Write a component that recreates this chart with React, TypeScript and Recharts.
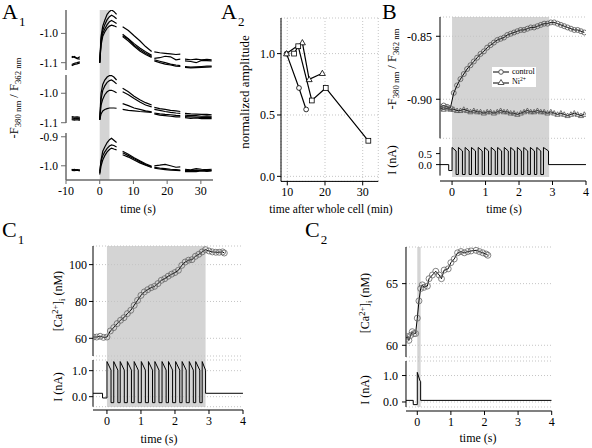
import React from 'react';
import { LineChart, Line, XAxis, YAxis, ReferenceArea, CartesianGrid } from 'recharts';

const FONT = '"Liberation Serif", "DejaVu Serif", serif';
const _ = null;

// ---------------- A1 : ratio traces ----------------
const a1Time = [-8.3, -7.5, -6.7, -5.9, -3, 0, 0.4, 0.9, 1.5, 2.2, 2.9, 3.5, 4.2, 5.0, 5.9, 6.8, 8.5, 10.2, 11.9, 13.6, 15.4, 15.8, 16.2, 17.8, 19.4, 21.0, 22.6, 23.9, 24.6, 25.3, 27.0, 28.6, 30.2, 31.8, 33.2];
const a1Top1 = [-1.078, -1.082, -1.085, -1.080, _, -1.100, -1.010, -0.975, -0.955, -0.935, -0.925, -0.920, -0.925, -0.935, _, -0.977, -0.990, -1.008, -1.025, -1.045, -1.062, _, -1.063, -1.066, -1.068, -1.070, -1.072, -1.071, _, -1.088, -1.090, -1.088, -1.090, -1.089, -1.090];
const a1Top2 = [-1.083, -1.079, -1.086, -1.088, _, -1.100, -1.020, -0.990, -0.970, -0.953, -0.943, -0.938, -0.942, -0.950, _, -1.003, -1.018, -1.035, -1.050, -1.063, -1.075, _, -1.085, -1.083, -1.078, -1.080, -1.090, -1.088, _, -1.094, -1.096, -1.100, -1.092, -1.093, -1.094];
const a1Top3 = [-1.106, -1.102, -1.100, -1.097, _, -1.100, -1.030, -1.000, -0.985, -0.970, -0.960, -0.956, -0.960, -0.966, _, -1.008, -1.020, -1.040, -1.055, -1.068, -1.079, _, -1.090, -1.095, -1.100, -1.105, -1.108, -1.110, _, -1.113, -1.115, -1.114, -1.113, -1.112, -1.112];
const a1Top4 = [-1.110, -1.106, -1.104, -1.101, _, -1.100, -1.040, -1.010, -0.995, -0.982, -0.975, -0.972, -0.974, -0.978, _, -1.011, -1.026, -1.044, -1.060, -1.072, -1.082, _, -1.094, -1.100, -1.105, -1.108, -1.112, -1.113, _, -1.116, -1.118, -1.117, -1.116, -1.115, -1.114];
const a1Mid1 = [-1.079, -1.081, -1.080, -1.082, _, -1.090, -1.000, -0.970, -0.955, -0.945, -0.940, -0.940, -0.945, -0.955, _, -0.983, -0.995, -1.010, -1.022, -1.032, -1.040, _, -1.048, -1.052, -1.055, -1.058, -1.060, -1.062, _, -1.068, -1.070, -1.071, -1.072, -1.072, -1.073];
const a1Mid2 = [-1.083, -1.085, -1.084, -1.086, _, -1.090, -1.020, -0.990, -0.975, -0.963, -0.957, -0.955, -0.960, -0.968, _, -0.995, -1.005, -1.018, -1.030, -1.040, -1.046, _, -1.055, -1.058, -1.062, -1.065, -1.067, -1.068, _, -1.074, -1.076, -1.076, -1.078, -1.077, -1.078];
const a1Mid3 = [-1.087, -1.088, -1.086, -1.089, _, -1.090, -1.040, -1.020, -1.005, -0.995, -0.990, -0.990, -0.993, -0.998, _, -1.035, -1.042, -1.050, -1.055, -1.060, -1.063, _, -1.067, -1.070, -1.072, -1.073, -1.075, -1.076, _, -1.079, -1.080, -1.081, -1.082, -1.081, -1.082];
const a1Mid4 = [-1.090, -1.091, -1.090, -1.092, _, -1.090, -1.070, -1.060, -1.055, -1.052, -1.050, -1.050, -1.050, -1.051, _, -1.055, -1.058, -1.060, -1.062, -1.063, -1.065, _, -1.070, -1.074, -1.076, -1.078, -1.080, -1.080, _, -1.083, -1.085, -1.084, -1.086, -1.085, -1.086];
const a1Low1 = [-1.012, -1.015, -1.013, -1.016, _, -1.025, -0.980, -0.950, -0.935, -0.920, -0.910, -0.905, -0.912, -0.920, _, -0.950, -0.960, -0.972, -0.983, -0.993, -1.002, _, -1.000, -0.998, -0.995, -1.000, -1.005, -1.004, _, -1.012, -1.014, -1.010, -1.012, -1.013, -1.012];
const a1Low2 = [-1.014, -1.012, -1.016, -1.014, _, -1.020, -0.985, -0.965, -0.952, -0.940, -0.932, -0.928, -0.930, -0.935, _, -0.955, -0.965, -0.976, -0.986, -0.996, -1.004, _, -1.005, -1.008, -1.010, -1.012, -1.013, -1.015, _, -1.016, -1.017, -1.015, -1.016, -1.017, -1.016];
const a1Low3 = [-1.016, -1.017, -1.015, -1.018, _, -1.030, -1.000, -0.980, -0.965, -0.952, -0.944, -0.939, -0.942, -0.945, _, -0.962, -0.970, -0.980, -0.990, -0.998, -1.006, _, -1.008, -1.011, -1.013, -1.015, -1.016, -1.017, _, -1.020, -1.019, -1.020, -1.018, -1.019, -1.018];

// ---------------- A2 : normalized amplitude ----------------
const a2CircleX = [9.8, 13.1, 15.0];
const a2CircleY = [1.0, 0.72, 0.545];
const a2TriX = [9.8, 14.0, 15.8, 19.3];
const a2TriY = [1.0, 1.09, 0.79, 0.84];
const a2SqX = [11.8, 12.9, 16.5, 20.2, 31.5];
const a2SqY = [1.0, 1.06, 0.618, 0.72, 0.29];

// ---------------- B : control vs Ni2+ ----------------
const bTime = [-0.35, -0.25, -0.15, -0.05, 0.05, 0.15, 0.25, 0.35, 0.45, 0.55, 0.65, 0.75, 0.85, 0.95, 1.05, 1.15, 1.25, 1.35, 1.45, 1.55, 1.65, 1.75, 1.85, 1.95, 2.05, 2.15, 2.25, 2.35, 2.45, 2.55, 2.65, 2.75, 2.85, 2.95, 3.05, 3.15, 3.25, 3.35, 3.45, 3.55, 3.65, 3.75, 3.85, 3.95];
const bControl = [-0.906, -0.905, -0.906, -0.907, -0.895, -0.889, -0.884, -0.880, -0.876, -0.873, -0.870, -0.867, -0.864, -0.862, -0.859, -0.857, -0.855, -0.853, -0.852, -0.851, -0.849, -0.848, -0.847, -0.846, -0.845, -0.845, -0.844, -0.843, -0.843, -0.842, -0.841, -0.840, -0.840, -0.839, -0.839, -0.840, -0.841, -0.842, -0.843, -0.844, -0.845, -0.845, -0.846, -0.847];
const bNi = [-0.907, -0.908, -0.907, -0.908, -0.908, -0.909, -0.909, -0.908, -0.909, -0.910, -0.909, -0.910, -0.910, -0.911, -0.910, -0.910, -0.911, -0.910, -0.909, -0.910, -0.910, -0.911, -0.911, -0.912, -0.911, -0.910, -0.909, -0.910, -0.910, -0.909, -0.910, -0.910, -0.911, -0.910, -0.911, -0.912, -0.911, -0.912, -0.913, -0.912, -0.911, -0.912, -0.913, -0.912];
const bPulseOn = [0, 0.19, 0.39, 0.58, 0.78, 0.97, 1.17, 1.36, 1.56, 1.75, 1.95, 2.14, 2.34, 2.53, 2.73];
const bLevels = { start: -0.36, stop: 4, base: 0, dipStart: -0.1, dip: -0.27, peak: 0.78, sag: 0.62, trough: -0.45, width: 0.12, end: 2.88 };

// ---------------- C1 : [Ca] during train ----------------
const c1Time = [-0.4, -0.3, -0.2, -0.1, 0, 0.1, 0.2, 0.3, 0.4, 0.5, 0.6, 0.7, 0.8, 0.9, 1.0, 1.1, 1.2, 1.3, 1.4, 1.5, 1.6, 1.7, 1.8, 1.9, 2.0, 2.1, 2.2, 2.3, 2.4, 2.5, 2.6, 2.7, 2.8, 2.9, 3.0, 3.1, 3.2, 3.3, 3.4, 3.45];
const c1Ca = [60.7, 60.7, 61.1, 60.5, 60.7, 64.0, 65.8, 68.0, 69.8, 71.2, 73.4, 75.2, 77.9, 80.6, 83.3, 85.2, 86.4, 87.5, 88.2, 89.7, 91.5, 92.4, 93.7, 94.8, 95.7, 96.9, 99.6, 101.4, 102.4, 102.7, 104.5, 105.6, 106.9, 108.1, 107.4, 106.9, 106.7, 106.7, 106.9, 106.3];
const c1PulseOn = [0, 0.2, 0.39, 0.6, 0.8, 1.01, 1.22, 1.41, 1.62, 1.81, 2.02, 2.21, 2.42, 2.61, 2.8];
const c1Levels = { start: -0.41, stop: 4, base: 0.13, dipStart: -0.13, dip: -0.05, peak: 1.35, sag: 1.02, trough: -0.23, width: 0.12, end: 2.9 };

// ---------------- C2 : [Ca] after single pulse ----------------
const c2Time = [-0.33, -0.3, -0.25, -0.2, -0.15, -0.1, -0.05, 0, 0.05, 0.1, 0.15, 0.2, 0.3, 0.35, 0.45, 0.55, 0.65, 0.72, 0.8, 0.92, 1.0, 1.1, 1.2, 1.3, 1.4, 1.5, 1.6, 1.75, 1.85, 1.95, 2.05, 2.1];
const c2Ca = [60.54, 60.7, 60.4, 60.8, 61.1, 60.95, 60.95, 62.2, 63.6, 64.6, 64.9, 64.7, 64.8, 65.4, 65.7, 66.0, 65.7, 65.4, 66.1, 66.2, 66.7, 67.0, 67.5, 67.6, 67.5, 67.6, 67.65, 67.7, 67.6, 67.5, 67.4, 67.3];
const c2CurT = [-0.336, -0.12, -0.12, 0, 0, 0.08, 0.1, 0.1, 4];
const c2CurI = [0.06, 0.06, -0.1, -0.1, 1.12, 0.8, 0.78, 0.06, 0.06];

// ---------------- tables built from the arrays ----------------
const a1Rows = a1Time.map((t, i) => ({
  t,
  top1: a1Top1[i], top2: a1Top2[i], top3: a1Top3[i], top4: a1Top4[i],
  mid1: a1Mid1[i], mid2: a1Mid2[i], mid3: a1Mid3[i], mid4: a1Mid4[i],
  low1: a1Low1[i], low2: a1Low2[i], low3: a1Low3[i],
}));
const toXY = (xs: number[], ys: number[]) => xs.map((x, i) => ({ x, y: ys[i] }));
const a2CircleRows = toXY(a2CircleX, a2CircleY);
const a2TriRows = toXY(a2TriX, a2TriY);
const a2SqRows = toXY(a2SqX, a2SqY);
const bRows = bTime.map((t, i) => ({ t, control: bControl[i], ni: bNi[i] }));
const c1Rows = c1Time.map((t, i) => ({ t, ca: c1Ca[i] }));
const c2Rows = c2Time.map((t, i) => ({ t, ca: c2Ca[i] }));
const c2CurRows = c2CurT.map((t, i) => ({ t, i: c2CurI[i] }));

function pulseTrain(on: number[], lv: any) {
  const pts: { t: number; i: number }[] = [
    { t: lv.start, i: lv.base }, { t: lv.dipStart, i: lv.base },
    { t: lv.dipStart, i: lv.dip }, { t: on[0], i: lv.dip },
  ];
  on.forEach((o, k) => {
    const last = k === on.length - 1;
    const off = last ? lv.end : o + lv.width;
    pts.push({ t: o, i: lv.peak }, { t: off, i: lv.sag }, { t: off, i: last ? lv.base : lv.trough });
    if (!last) pts.push({ t: on[k + 1], i: lv.trough });
  });
  pts.push({ t: lv.stop, i: lv.base });
  return pts;
}
const bCurRows = pulseTrain(bPulseOn, bLevels);
const c1CurRows = pulseTrain(c1PulseOn, c1Levels);

// ---------------- helpers ----------------
const BAND = '#d4d4d4';
const GRID = '#c4c4c4';

function Chart({ x, y, w, h, l = 0, xh = 0, data, children }: any) {
  const t = 8, r = 10, bm = xh ? 0 : 8;
  return (
    <div style={{ position: 'absolute', left: x - l, top: y - t }}>
      <LineChart width={l + w + r} height={t + h + xh + bm} margin={{ top: t, right: r, bottom: bm, left: 0 }} data={data} style={{ fontFamily: FONT }}>
        {children}
      </LineChart>
    </div>
  );
}

const axStyle = (fs: number, m: number, ts = 4, ax = '#000', aw = 1) => ({
  axisLine: { stroke: ax, strokeWidth: aw },
  tickLine: { stroke: ax },
  tickSize: ts,
  tickMargin: m,
  tick: { fill: '#000', fontSize: fs, fontFamily: FONT },
  interval: 0 as const,
});
const f1 = (v: number) => v.toFixed(1);
const f2 = (v: number) => v.toFixed(2);
const f0 = (v: number) => v.toFixed(0);

const circleDot = (r: number, stroke: string, fill: string) => (p: any) => {
  if (p.cx == null || p.cy == null) return <g key={`e${p.index}`} />;
  return <circle key={`c${p.index}`} cx={p.cx} cy={p.cy} r={r} fill={fill} stroke={stroke} strokeWidth={0.8} />;
};
const triDot = (s: number, stroke: string, fill: string) => (p: any) => {
  if (p.cx == null || p.cy == null) return <g key={`e${p.index}`} />;
  const pts = `${p.cx},${p.cy - s} ${p.cx - s},${p.cy + s * 0.75} ${p.cx + s},${p.cy + s * 0.75}`;
  return <polygon key={`t${p.index}`} points={pts} fill={fill} stroke={stroke} strokeWidth={0.8} />;
};
const squareDot = (s: number) => (p: any) => {
  if (p.cx == null || p.cy == null) return <g key={`e${p.index}`} />;
  return <rect key={`s${p.index}`} x={p.cx - s} y={p.cy - s} width={2 * s} height={2 * s} fill="#fff" stroke="#000" strokeWidth={0.8} />;
};

function Band({ x, y, w, h, domain, x1, x2 }: any) {
  return (
    <Chart x={x} y={y} w={w} h={h} data={[{ t: domain[0] }, { t: domain[1] }]}>
      <XAxis dataKey="t" type="number" domain={domain} allowDataOverflow hide />
      <YAxis type="number" domain={[0, 1]} allowDataOverflow hide />
      <ReferenceArea x1={x1} x2={x2} y1={0} y2={1} fill={BAND} fillOpacity={1} stroke="none" />
    </Chart>
  );
}

function TimeAxis({ x, y, w, domain, ticks, fs }: any) {
  return (
    <Chart x={x} y={y - 10} w={w} h={10} xh={30} data={[{ t: domain[0] }, { t: domain[1] }]}>
      <XAxis dataKey="t" type="number" domain={domain} allowDataOverflow ticks={ticks} height={30} {...axStyle(fs, 2)} />
      <YAxis type="number" domain={[0, 1]} hide />
    </Chart>
  );
}

const Txt = ({ x, y, size, rot, children }: any) => (
  <div style={{
    position: 'absolute', left: x, top: y, whiteSpace: 'nowrap', fontSize: size, lineHeight: 1,
    transform: `translate(-50%,-50%)${rot ? ' rotate(-90deg)' : ''}`,
  }}>{children}</div>
);
const PanelLabel = ({ x, y, main, sub }: any) => (
  <div style={{ position: 'absolute', left: x, top: y, fontSize: 22, lineHeight: 1, whiteSpace: 'nowrap' }}>
    {main}{sub ? <span style={{ fontSize: 13, position: 'relative', top: 7, marginLeft: 1 }}>{sub}</span> : null}
  </div>
);
const Sub = ({ children }: any) => <span style={{ fontSize: '0.7em', position: 'relative', top: '0.3em' }}>{children}</span>;
const Sup = ({ children }: any) => <span style={{ fontSize: '0.7em', position: 'relative', top: '-0.5em' }}>{children}</span>;

const ratioTitle = (<>-F<Sub>380 nm</Sub> / F<Sub>362 nm</Sub></>);
const caTitle = (<>[Ca<Sup>2+</Sup>]<Sub>i</Sub> (nM)</>);

const line = (k: string) => (
  <Line key={k} dataKey={k} type="linear" stroke="#000" strokeWidth={1.2} dot={false} connectNulls={false} isAnimationActive={false} />
);

const A1D: [number, number] = [-10, 33.6];
const BD: [number, number] = [-0.36, 4];
const C1D: [number, number] = [-0.41, 4];
const C2D: [number, number] = [-0.336, 4];
const A1AX = '#6a6a6a';

export default function App() {
  return (
    <div style={{ position: 'absolute', left: 0, top: 0, width: 592, height: 448, background: '#fff', fontFamily: FONT, color: '#000', overflow: 'hidden' }}>
      {/* ===== A1 ===== */}
      <Band x={66} y={10} w={147} h={170} domain={A1D} x1={0} x2={2.9} />
      <Chart x={66} y={10} w={147} h={60} l={46} data={a1Rows}>
        <XAxis dataKey="t" type="number" domain={A1D} allowDataOverflow hide />
        <YAxis width={46} type="number" domain={[-1.125, -0.92]} allowDataOverflow ticks={[-1.1, -1.0]} tickFormatter={f1} {...axStyle(11.5, 3, 5, A1AX, 1.5)} />
        {['top1', 'top2', 'top3', 'top4'].map(line)}
      </Chart>
      <Chart x={66} y={75} w={147} h={48} l={46} data={a1Rows}>
        <XAxis dataKey="t" type="number" domain={A1D} allowDataOverflow hide />
        <YAxis width={46} type="number" domain={[-1.101, -0.938]} allowDataOverflow ticks={[-1.1, -1.0]} tickFormatter={f1} {...axStyle(11.5, 3, 5, A1AX, 1.5)} />
        {['mid1', 'mid2', 'mid3', 'mid4'].map(line)}
      </Chart>
      <Chart x={66} y={133} w={147} h={47} l={46} xh={30} data={a1Rows}>
        <XAxis dataKey="t" type="number" domain={A1D} allowDataOverflow ticks={[-10, 0, 10, 20, 30]} height={30} {...axStyle(12, 2, 4, A1AX, 1.5)} />
        <YAxis width={46} type="number" domain={[-1.049, -0.887]} allowDataOverflow ticks={[-1.0, -0.9]} tickFormatter={f1} {...axStyle(11.5, 3, 5, A1AX, 1.5)} />
        {['low1', 'low2', 'low3'].map(line)}
      </Chart>
      <PanelLabel x={2} y={1} main="A" sub="1" />
      <Txt x={14} y={98} size={12.5} rot>{ratioTitle}</Txt>
      <Txt x={138} y={210} size={11.5}>time (s)</Txt>

      {/* ===== A2 ===== */}
      <Chart x={281} y={18.3} w={97.3} h={163.4} l={40} xh={30}>
        <CartesianGrid stroke={GRID} strokeDasharray="1 2" />
        <XAxis dataKey="x" type="number" domain={[8.33, 34.14]} allowDataOverflow ticks={[10, 20, 30]} height={30} {...axStyle(12, 2)} />
        <YAxis width={40} type="number" domain={[-0.041, 1.29]} allowDataOverflow ticks={[0, 0.5, 1.0]} tickFormatter={f1} {...axStyle(12, 2)} />
        <Line data={a2CircleRows} dataKey="y" stroke="#000" strokeWidth={1.2} dot={circleDot(2.4, '#000', '#fff')} isAnimationActive={false} />
        <Line data={a2TriRows} dataKey="y" stroke="#000" strokeWidth={1.2} dot={triDot(3, '#000', '#fff')} isAnimationActive={false} />
        <Line data={a2SqRows} dataKey="y" stroke="#000" strokeWidth={1.2} dot={squareDot(2.4)} isAnimationActive={false} />
      </Chart>
      <PanelLabel x={221} y={1} main="A" sub="2" />
      <Txt x={244} y={92} size={13} rot>normalized amplitude</Txt>
      <Txt x={331} y={210} size={11.5}>time after whole cell (min)</Txt>

      {/* ===== B ===== */}
      <Band x={440} y={17} w={146} h={160} domain={BD} x1={0} x2={2.9} />
      <Chart x={440} y={16.7} w={146} h={121.3} l={50} data={bRows}>
        <CartesianGrid stroke={GRID} strokeDasharray="1 2" vertical={false} />
        <XAxis dataKey="t" type="number" domain={BD} allowDataOverflow hide />
        <YAxis width={50} type="number" domain={[-0.931, -0.8347]} allowDataOverflow ticks={[-0.9, -0.85]} tickFormatter={f2} {...axStyle(12, 4)} />
        <Line dataKey="ni" stroke="#000" strokeWidth={1} dot={triDot(2.6, '#555', 'none')} isAnimationActive={false} />
        <Line dataKey="control" stroke="#000" strokeWidth={1} dot={circleDot(2.5, '#555', 'none')} isAnimationActive={false} />
      </Chart>
      <Chart x={440} y={146.7} w={146} h={28.6} l={50} data={bCurRows}>
        <XAxis dataKey="t" type="number" domain={BD} allowDataOverflow hide />
        <YAxis width={50} type="number" domain={[-0.5, 0.8]} allowDataOverflow ticks={[0, 0.5]} tickFormatter={f1} {...axStyle(11, 4)} />
        <Line dataKey="i" stroke="#000" strokeWidth={1} dot={false} isAnimationActive={false} />
      </Chart>
      <TimeAxis x={440} y={181} w={146} domain={BD} ticks={[0, 1, 2, 3, 4]} fs={12} />
      <div style={{ position: 'absolute', left: 492, top: 67, width: 44, height: 20, background: '#fff', fontSize: 8, lineHeight: '10px' }}>
        <div style={{ display: 'flex', alignItems: 'center', height: 10 }}>
          <svg width={18} height={10}><line x1={1} y1={5} x2={17} y2={5} stroke="#000" /><circle cx={9} cy={5} r={2.3} fill="#fff" stroke="#555" /></svg>
          <span style={{ marginLeft: 2 }}>control</span>
        </div>
        <div style={{ display: 'flex', alignItems: 'center', height: 10 }}>
          <svg width={18} height={10}><line x1={1} y1={6} x2={17} y2={6} stroke="#000" /><polygon points="9,2.5 6,7.5 12,7.5" fill="#fff" stroke="#555" /></svg>
          <span style={{ marginLeft: 2 }}>Ni<Sup>2+</Sup></span>
        </div>
      </div>
      <PanelLabel x={382} y={1} main="B" />
      <Txt x={392} y={69} size={12.5} rot>{ratioTitle}</Txt>
      <Txt x={392} y={160} size={12} rot>I (nA)</Txt>
      <Txt x={504} y={210} size={11.5}>time (s)</Txt>

      {/* ===== C1 ===== */}
      <Band x={93.3} y={245.7} w={150} h={161} domain={C1D} x1={0} x2={2.9} />
      <Chart x={93.3} y={245.7} w={150} h={110} l={45} data={c1Rows}>
        <CartesianGrid stroke={GRID} strokeDasharray="1 2" vertical={false} />
        <XAxis dataKey="t" type="number" domain={C1D} allowDataOverflow hide />
        <YAxis width={45} type="number" domain={[50.4, 110.1]} allowDataOverflow ticks={[60, 80, 100]} tickFormatter={f0} {...axStyle(12, 2)} />
        <Line dataKey="ca" stroke="#000" strokeWidth={1} dot={circleDot(3, '#666', 'none')} isAnimationActive={false} />
      </Chart>
      <Chart x={93.3} y={360} w={150} h={46.7} l={45} data={c1CurRows}>
        <CartesianGrid stroke={GRID} strokeDasharray="1 2" vertical={false} />
        <XAxis dataKey="t" type="number" domain={C1D} allowDataOverflow hide />
        <YAxis width={45} type="number" domain={[-0.385, 1.41]} allowDataOverflow ticks={[0, 1]} tickFormatter={f1} {...axStyle(12, 2)} />
        <Line dataKey="i" stroke="#000" strokeWidth={1} dot={false} isAnimationActive={false} />
      </Chart>
      <TimeAxis x={93.3} y={410} w={150} domain={C1D} ticks={[0, 1, 2, 3, 4]} fs={12} />
      <PanelLabel x={2} y={219} main="C" sub="1" />
      <Txt x={58} y={301} size={12} rot>{caTitle}</Txt>
      <Txt x={58} y={387} size={12} rot>I (nA)</Txt>
      <Txt x={159} y={439} size={12}>time (s)</Txt>

      {/* ===== C2 ===== */}
      <Band x={406} y={246.7} w={145.7} h={160} domain={C2D} x1={0} x2={0.1} />
      <Chart x={406} y={246.7} w={145.7} h={110} l={45} data={c2Rows}>
        <CartesianGrid stroke={GRID} strokeDasharray="1 2" vertical={false} />
        <XAxis dataKey="t" type="number" domain={C2D} allowDataOverflow hide />
        <YAxis width={45} type="number" domain={[59.05, 67.97]} allowDataOverflow ticks={[60, 65]} tickFormatter={f0} {...axStyle(12, 4)} />
        <Line dataKey="ca" stroke="#000" strokeWidth={1} dot={circleDot(3, '#666', 'none')} isAnimationActive={false} />
      </Chart>
      <Chart x={406} y={360.7} w={145.7} h={46} l={45} data={c2CurRows}>
        <CartesianGrid stroke={GRID} strokeDasharray="1 2" vertical={false} />
        <XAxis dataKey="t" type="number" domain={C2D} allowDataOverflow hide />
        <YAxis width={45} type="number" domain={[-0.19, 1.55]} allowDataOverflow ticks={[0, 1]} tickFormatter={f1} {...axStyle(12, 4)} />
        <Line dataKey="i" stroke="#000" strokeWidth={1} dot={false} isAnimationActive={false} />
      </Chart>
      <TimeAxis x={406} y={410.7} w={145.7} domain={C2D} ticks={[0, 1, 2, 3, 4]} fs={12} />
      <PanelLabel x={305} y={219} main="C" sub="2" />
      <Txt x={365} y={303} size={12} rot>{caTitle}</Txt>
      <Txt x={365} y={390} size={12} rot>I (nA)</Txt>
      <Txt x={478} y={438} size={12}>time (s)</Txt>
    </div>
  );
}
